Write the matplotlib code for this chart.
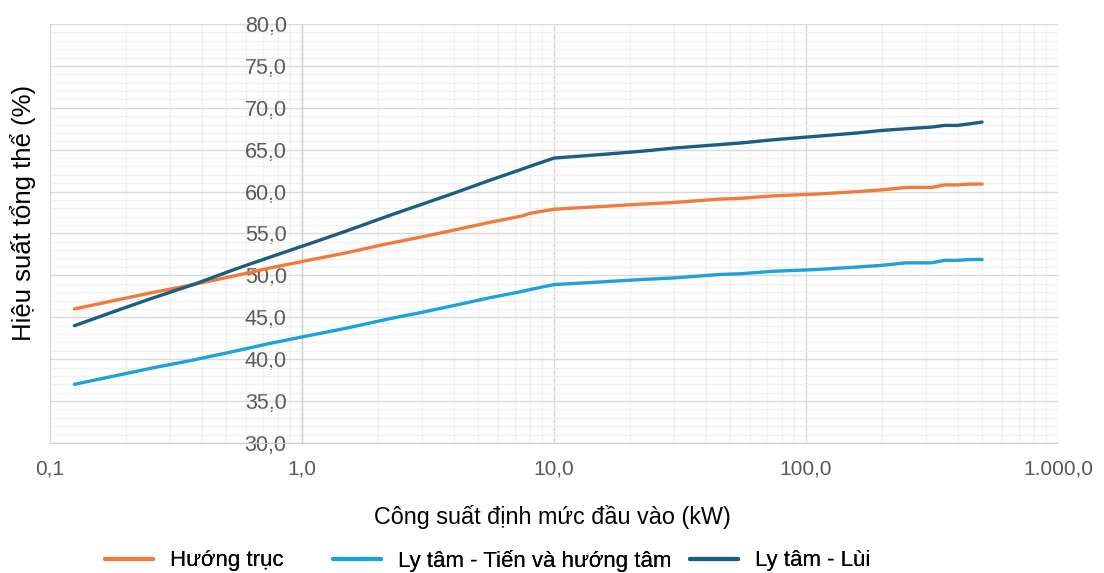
import matplotlib
matplotlib.use("Agg")
import matplotlib.pyplot as plt
import matplotlib.ticker as mticker

# --- Daten ---
cong_suat_kw = [0.125, 0.18, 0.25, 0.37, 0.55, 0.75, 1.1, 1.5, 2.2, 3, 4, 5.5, 7.5, 8, 10,
                15, 22, 30, 45, 55, 75, 110, 160, 200, 250, 315, 355, 400, 450, 500]

huong_truc = [46.0, 47.0, 47.9, 48.9, 50.0, 50.9, 51.9, 52.7, 53.8, 54.6, 55.4, 56.3, 57.1, 57.4, 57.9,
              58.2, 58.5, 58.7, 59.1, 59.2, 59.5, 59.7, 60.0, 60.2, 60.5, 60.5, 60.8, 60.8, 60.9, 60.9]

ly_tam_tien = [37.0, 38.0, 38.9, 39.9, 41.0, 41.9, 42.9, 43.7, 44.8, 45.6, 46.4, 47.3, 48.1, 48.3, 48.9,
               49.2, 49.5, 49.7, 50.1, 50.2, 50.5, 50.7, 51.0, 51.2, 51.5, 51.5, 51.8, 51.8, 51.9, 51.9]

ly_tam_lui = [44.0, 45.7, 47.2, 48.9, 50.8, 52.2, 53.9, 55.3, 57.1, 58.5, 59.8, 61.3, 62.7, 63.0, 64.0,
              64.4, 64.8, 65.2, 65.6, 65.8, 66.2, 66.6, 67.0, 67.3, 67.5, 67.7, 67.9, 67.9, 68.1, 68.3]

series_names = ["Hướng trục", "Ly tâm - Tiến và hướng tâm", "Ly tâm - Lùi"]
series_colors = ["#F07B3A", "#1EA1DC", "#1B5E84"]

FONT = ["Liberation Sans", "DejaVu Sans"]

# Legendeneinträge: linke Kante (Figure-Koordinaten), wie im Original ungleich verteilt
LEGEND_X = [105 / 1104, 333 / 1104, 690 / 1104]


def vn_fmt(v, pos=None):
    # Vietnamesisches Zahlenformat: Tausenderpunkt, Dezimalkomma
    s = f"{v:,.1f}"
    return s.replace(",", "X").replace(".", ",").replace("X", ".")


fig = plt.figure(figsize=(11.04, 5.73), dpi=100)
ax = fig.add_axes([0.0453, 0.2269, 0.9130, 0.7312])

lines = []
for ys, name, col in zip([huong_truc, ly_tam_tien, ly_tam_lui], series_names, series_colors):
    ln, = ax.plot(cong_suat_kw, ys, color=col, linewidth=2.4, label=name,
                  solid_capstyle="round", solid_joinstyle="round", zorder=3)
    lines.append(ln)

ax.set_xscale("log")
ax.set_xlim(0.1, 1000)
ax.set_ylim(30, 80)

ax.xaxis.set_major_locator(mticker.LogLocator(base=10))
ax.xaxis.set_minor_locator(mticker.LogLocator(base=10, subs=range(2, 10)))
ax.xaxis.set_major_formatter(mticker.FuncFormatter(vn_fmt))
ax.xaxis.set_minor_formatter(mticker.NullFormatter())
ax.yaxis.set_major_locator(mticker.MultipleLocator(5))
ax.yaxis.set_minor_locator(mticker.MultipleLocator(1))
ax.yaxis.set_major_formatter(mticker.FuncFormatter(vn_fmt))

ax.grid(True, which="major", color="#d9d9d9", linewidth=1.0, zorder=0)
ax.grid(True, which="minor", color="#f0f0f0", linewidth=1.0, zorder=0)
ax.set_axisbelow(True)

# y-Achse kreuzt bei x = 1
ax.spines["left"].set_position(("data", 1.0))
ax.spines["left"].set_color("#cccccc")
ax.spines["bottom"].set_color("#cccccc")
ax.spines["top"].set_visible(False)
ax.spines["right"].set_visible(False)

ax.tick_params(axis="both", which="both", length=0)
ax.tick_params(axis="x", pad=12, labelsize=15, labelcolor="#595959")
ax.tick_params(axis="y", pad=11, labelsize=15.5, labelcolor="#595959")
for lbl in ax.get_xticklabels() + ax.get_yticklabels():
    lbl.set_family(FONT)

fig.text(0.021, 0.628, "Hiệu suất tổng thể (%)", rotation=90, ha="center", va="center",
         fontsize=18.5, family=FONT, color="#000000")
fig.text(0.5, 0.0977, "Công suất định mức đầu vào (kW)", ha="center", va="center",
         fontsize=16.8, family=FONT, color="#000000")

# Drei einzelne Legenden, damit die Abstände wie im Original passen
for ln, name, x0 in zip(lines, series_names, LEGEND_X):
    leg = fig.legend([ln], [name], loc="center left", bbox_to_anchor=(x0, 0.021),
                     frameon=False, handlelength=2.15, handletextpad=0.77,
                     borderpad=0, borderaxespad=0, prop={"family": FONT, "size": 16})
    for h in leg.get_lines():
        h.set_linewidth(3.0)
    fig.add_artist(leg)

fig.savefig("out.png", dpi=100)
